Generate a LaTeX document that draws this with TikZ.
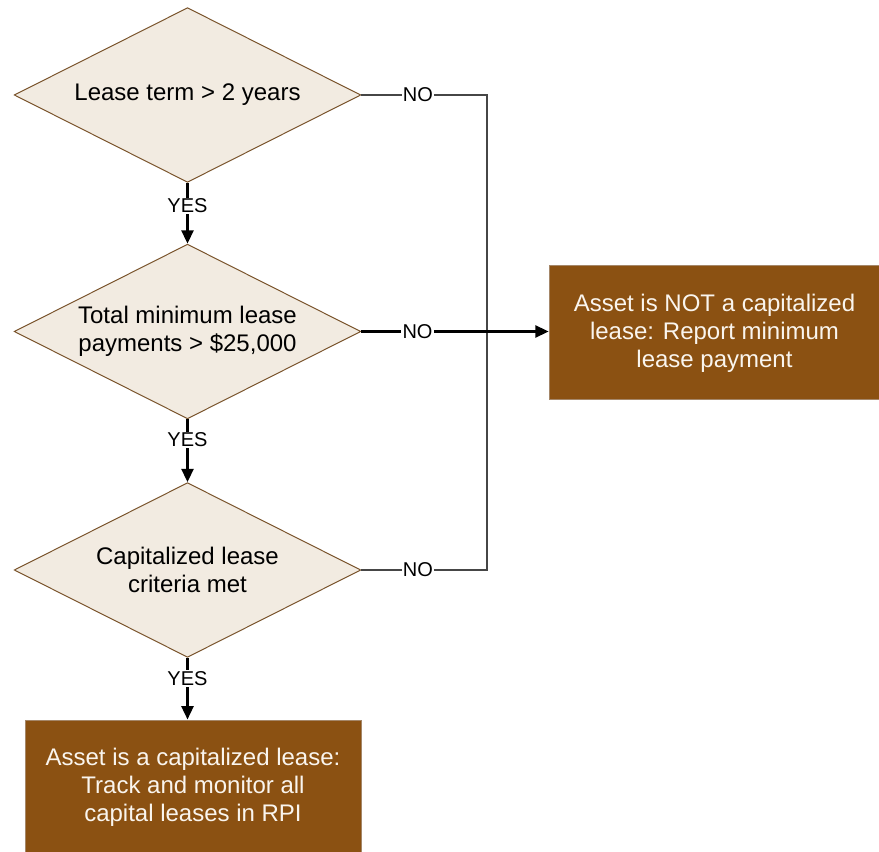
\documentclass[tikz,border=0pt]{standalone}
\usepackage{fontspec}
\setmainfont{Liberation Sans}
\usetikzlibrary{shapes.geometric,arrows.meta}
\definecolor{sand}{RGB}{242,235,225}
\definecolor{sandline}{RGB}{122,84,44}
\definecolor{bark}{RGB}{139,81,18}
\definecolor{barkline}{RGB}{165,135,105}
\definecolor{cream}{RGB}{250,245,238}
\definecolor{wire}{RGB}{70,70,70}
\begin{document}
\begin{tikzpicture}[x=0.75pt,y=-0.75pt,
  test/.style={diamond,aspect=2,draw=sandline,fill=sand,line width=0.75pt,
    minimum width=260pt,minimum height=131pt,inner sep=0pt,align=center,
    font=\fontsize{18}{21}\selectfont},
  result/.style={rectangle,draw=barkline,fill=bark,text=cream,line width=0.75pt,
    minimum height=100.5pt,align=center,font=\fontsize{18}{21}\selectfont},
  yes/.style={draw=black,line width=1.8pt,-{Triangle[length=10pt,width=9pt]}},
  no/.style={draw=wire,line width=1.1pt},
  tag/.style={fill=white,inner sep=1pt,font=\fontsize{15}{18}\selectfont}]
\useasboundingbox (0,0) rectangle (879,852);
\node[test] (term) at (187.5,95) {Lease term > 2 years};
\node[test] (payments) at (187.5,331.5) {Total minimum lease\\payments > \$25,000};
\node[test] (criteria) at (187.5,570) {Capitalized lease\\criteria met};
\node[result,minimum width=248pt] (notcap) at (714.5,333) {Asset is NOT a capitalized\\lease: Report minimum\\lease payment};
\node[result,minimum width=252pt] (cap) at (193,787) {Asset is a capitalized lease:\\Track and monitor all\\capital leases in RPI};
\coordinate (rail) at (487,95);
\draw[no] (term.east) -- node[tag,pos=0.45]{NO} (term.east -| rail)
  -- (criteria.east -| rail) -- node[tag,pos=0.55]{NO} (criteria.east);
\draw[yes] (payments.east) -- node[tag,pos=0.3]{NO} (payments.east -| notcap.west);
\draw[yes] (term.south) -- node[tag,pos=0.38]{YES} (payments.north);
\draw[yes] (payments.south) -- node[tag,pos=0.33]{YES} (criteria.north);
\draw[yes] (criteria.south) -- node[tag,pos=0.33]{YES} (criteria.south |- cap.north);
\end{tikzpicture}
\end{document}
